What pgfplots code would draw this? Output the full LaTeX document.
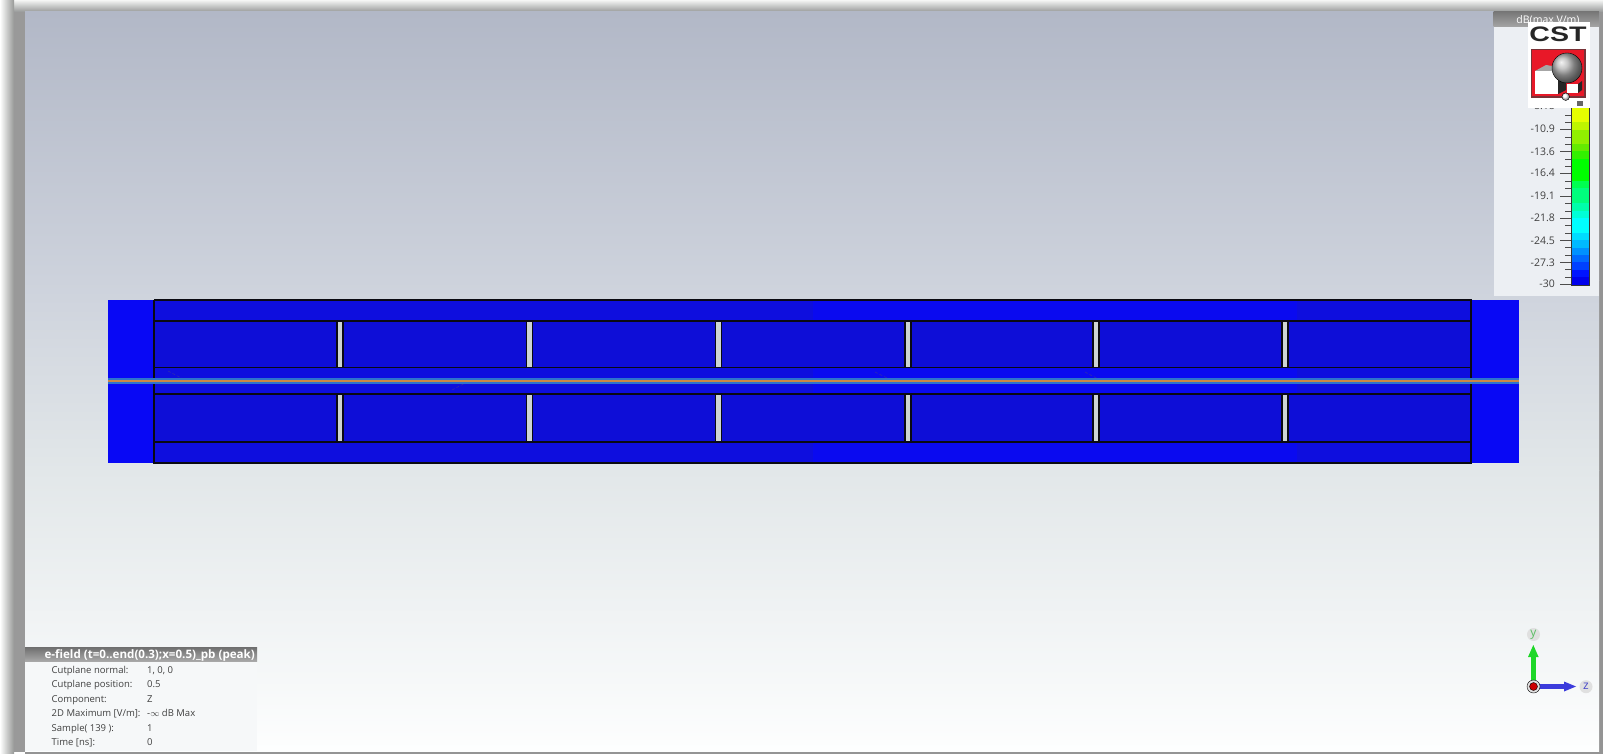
\documentclass[border=0pt]{standalone}
\usepackage{pgfplots}
\pgfplotsset{compat=1.18}
\usepackage{fontspec}
\setmainfont{Open Sans}
\newfontfamily\cstfont[FakeStretch=1.36]{Liberation Sans}
\newcommand\rect[5]{\addplot[fill=#1,draw=none,forget plot] coordinates {(#2,#3)(#4,#3)(#4,#5)(#2,#5)} -- cycle;}
\newcommand\band[2]{\addplot[fill={rgb,255:#1},draw=none,forget plot] coordinates {(1571,285)(1589,285)(1589,#2)(1571,#2)} -- cycle;}
\newcommand\grad[6]{\addplot[top color={rgb,255:#1},bottom color={rgb,255:#2},draw=none,forget plot] coordinates {(#3,#4)(#5,#4)(#5,#6)(#3,#6)} -- cycle;}
\newcommand\hgrad[6]{\addplot[left color={rgb,255:#1},right color={rgb,255:#2},draw=none,forget plot] coordinates {(#3,#4)(#5,#4)(#5,#6)(#3,#6)} -- cycle;}
\newcommand\slot[4]{\rect{blk}{#1}{321}{#4}{367.5}\rect{slotgrey}{#2}{322}{#3}{366.5}%
\rect{blk}{#1}{394}{#4}{441.5}\rect{slotgrey}{#2}{395}{#3}{440.5}}
\newcommand\tick[2]{\addplot[black!70,line width=.9pt,forget plot] coordinates {(#1,#2)(1571,#2)};}
\newcommand\lab[2]{\node[anchor=east,inner sep=0pt,text=black!75,font=\fontsize{10.5}{12}\selectfont] at (axis cs:1555,#2) {#1};}
\newcommand\info[3]{\node[anchor=base west,inner sep=0pt,text=black!75,font=\fontsize{9.5}{12}\selectfont] at (axis cs:51.5,#3) {#1};\node[anchor=base west,inner sep=0pt,text=black!75,font=\fontsize{9.5}{12}\selectfont] at (axis cs:147,#3) {#2};}
\newcommand\artefact[4]{\addplot[artc,line width=.6pt,densely dashed,forget plot] coordinates {(#1,#2)(#3,#4)};}
\definecolor{blk}{RGB}{10,10,18}
\definecolor{artc}{RGB}{45,45,175}
\definecolor{blockblue}{RGB}{8,8,245}
\definecolor{stripblue}{RGB}{10,10,240}
\definecolor{stripdark}{RGB}{14,14,222}
\definecolor{cellblue}{RGB}{14,14,215}
\definecolor{slotgrey}{RGB}{205,212,212}
\definecolor{panel}{RGB}{236,239,243}
\definecolor{lineblue}{RGB}{45,115,205}
\definecolor{lineorange}{RGB}{205,135,70}
\definecolor{logored}{RGB}{232,24,40}
\definecolor{logoedge}{RGB}{120,50,55}
\definecolor{axg}{RGB}{30,215,40}
\definecolor{axb}{RGB}{60,60,220}
\definecolor{boxfill}{RGB}{246,248,249}
\definecolor{tagy}{RGB}{90,190,100}
\definecolor{tagz}{RGB}{70,70,200}
\begin{document}
\begin{tikzpicture}
\begin{axis}[scale only axis,width=1603pt,height=754pt,xmin=0,xmax=1603,ymin=0,ymax=754,y dir=reverse,
  axis lines=none,clip=true]
% window shadow and backdrop
\rect{white}{0}{0}{1603}{754}
\grad{red,245;green,246;blue,245}{red,150;green,152;blue,152}{10}{0}{1603}{12}
\hgrad{red,255;green,255;blue,255}{red,150;green,152;blue,150}{0}{0}{14}{754}
\rect{black!40}{14}{12}{25}{752}
\rect{black!42}{25}{751}{1603}{754}
\rect{black!42}{1599}{12}{1603}{754}
% backdrop gradient
\grad{red,178;green,184;blue,199}{red,205;green,210;blue,220}{25}{12}{1599}{280}
\grad{red,205;green,210;blue,220}{red,226;green,231;blue,233}{25}{280}{1599}{470}
\grad{red,226;green,231;blue,233}{red,253;green,254;blue,254}{25}{470}{1599}{751}
% end blocks
\rect{blockblue}{107.5}{300}{154}{463}
\rect{blockblue}{1471}{300}{1518.5}{463}
% strips
\rect{stripdark}{154}{300}{1471}{463}
\rect{stripblue}{813}{300}{1297}{321}
\rect{stripblue}{813}{441.7}{1297}{463}
\rect{stripblue}{813}{367.5}{1297}{393.7}
% cells
\rect{cellblue}{154}{321}{1471}{367.5}
\rect{cellblue}{154}{393.7}{1471}{441.7}
% slots
\slot{336.2}{337.6}{342.4}{343.8}
\slot{525.7}{527.1}{531.9}{533.3}
\slot{714.7}{716.1}{720.9}{722.3}
\slot{904.2}{905.6}{910.4}{911.8}
\slot{1092.2}{1093.6}{1098.4}{1099.8}
\slot{1281.2}{1282.6}{1287.4}{1288.8}
% frame lines
\addplot[blk,line width=1.8pt,forget plot] coordinates {(154,300)(1471,300)(1471,463)(154,463)(154,300)};
\addplot[blk,line width=1.6pt,forget plot] coordinates {(154,321)(1471,321)};
\addplot[blk,line width=1.6pt,forget plot] coordinates {(154,367.5)(1471,367.5)};
\addplot[blk,line width=1.6pt,forget plot] coordinates {(154,393.7)(1471,393.7)};
\addplot[blk,line width=1.6pt,forget plot] coordinates {(154,441.7)(1471,441.7)};
% faint artefacts near the centre
\artefact{168}{371}{187}{381}
\artefact{452}{390}{469}{381}
\artefact{875}{372}{893}{381}
\artefact{1085}{372}{1100}{380}
% centre strip
\rect{lineblue}{107.5}{378.3}{1518.5}{383.7}
\rect{lineorange}{107.5}{380}{1518.5}{382}
% colour bar panel
\rect{panel}{1493.5}{27}{1599}{296}
\grad{red,120;green,120;blue,120}{red,165;green,165;blue,165}{1493.5}{12}{1599}{27}
\node[inner sep=0pt,text=white,font=\fontsize{10.5}{12}\selectfont,anchor=base] at (axis cs:1548,24) {dB(max V/m)};
% colour bar, top band first, each later band covering the rest below it
\band{red,230;green,255;blue,0}{108}
\band{red,190;green,245;blue,0}{122}
\band{red,145;green,240;blue,0}{130}
\band{red,100;green,235;blue,0}{144}
\band{red,50;green,240;blue,0}{151}
\band{red,0;green,255;blue,0}{159}
\band{red,0;green,255;blue,80}{181}
\band{red,0;green,255;blue,125}{188}
\band{red,0;green,255;blue,170}{203}
\band{red,0;green,255;blue,215}{211}
\band{red,0;green,255;blue,255}{218}
\band{red,0;green,220;blue,255}{233}
\band{red,0;green,185;blue,255}{240}
\band{red,0;green,145;blue,255}{248}
\band{red,0;green,105;blue,255}{255}
\band{red,0;green,65;blue,255}{262}
\band{red,0;green,20;blue,255}{270}
\band{red,0;green,0;blue,235}{277}
\addplot[black!80,line width=.7pt,forget plot] coordinates {(1571,108)(1571,285)(1589,285)(1589,108)};
% ticks
\tick{1560}{284}\tick{1560}{262}\tick{1560}{240}\tick{1560}{218}\tick{1560}{196}\tick{1560}{173}\tick{1560}{151}\tick{1560}{129}\tick{1560}{107}
\tick{1565}{277}\tick{1565}{269}\tick{1565}{255}\tick{1565}{247}\tick{1565}{233}\tick{1565}{225}\tick{1565}{211}\tick{1565}{203}\tick{1565}{188}\tick{1565}{181}\tick{1565}{166}\tick{1565}{159}\tick{1565}{144}\tick{1565}{137}\tick{1565}{122}\tick{1565}{115}
\lab{-30}{284}\lab{-27.3}{262.5}\lab{-24.5}{240.5}\lab{-21.8}{218}\lab{-19.1}{195.5}\lab{-16.4}{173}\lab{-13.6}{151.5}\lab{-10.9}{129}\lab{-8.18}{106}
% CST logo
\rect{white}{1527.5}{22}{1589.5}{108}
\node[inner sep=0pt,font=\fontsize{21}{24}\selectfont\cstfont\bfseries,text=black!85,anchor=base] at (axis cs:1558,41.5) {CST};
\rect{logoedge}{1531}{49}{1585.7}{97.7}
\rect{logored}{1532.3}{50.3}{1584.4}{96.4}
\addplot[only marks,mark=ball,mark size=15pt,mark options={ball color=black!30},forget plot] coordinates {(1567,68)};
\addplot[draw=none,fill=black!35,forget plot] coordinates {(1535,71)(1546,65)(1558,67)(1558,71)} -- cycle;
\rect{white}{1535}{71}{1558}{94}
\addplot[draw=none,fill=black!85,forget plot] coordinates {(1558,71)(1566,67)(1566,90)(1558,94)} -- cycle;
\rect{white}{1567}{84}{1578}{93}
\addplot[draw=none,fill=black!85,forget plot] coordinates {(1578,84)(1582,81)(1582,90)(1578,93)} -- cycle;
\addplot[only marks,mark=ball,mark size=3.8pt,mark options={ball color=white},forget plot] coordinates {(1565.7,96.7)};
\rect{black!60}{1577}{101}{1583}{106}
% info box
\rect{boxfill}{25}{661.5}{257}{751}
\grad{red,110;green,110;blue,110}{red,170;green,170;blue,170}{25}{647}{257}{661.5}
\node[inner sep=0pt,text=white,font=\fontsize{11.6}{13}\selectfont\bfseries,anchor=base west] at (axis cs:44.3,658) {e-field (t=0..end(0.3);x=0.5)\_pb (peak)};
\info{Cutplane normal:}{1, 0, 0}{673}
\info{Cutplane position:}{0.5}{687.5}
\info{Component:}{Z}{702}
\info{2D Maximum [V/m]:}{-$\infty$ dB Max}{716.5}
\info{Sample( 139 ):}{1}{731}
\info{Time [ns]:}{0}{745}
% axes triad
\addplot[only marks,mark=*,mark size=6.5pt,mark options={draw=none,fill=black!12},forget plot] coordinates {(1533.5,686.5)};
\addplot[axg,line width=5.5pt,forget plot] coordinates {(1533.3,686)(1533.3,656)};
\addplot[fill=axg,draw=none,forget plot] coordinates {(1528,657)(1533.3,645)(1538.6,657)} -- cycle;
\addplot[axb,line width=4.5pt,forget plot] coordinates {(1533.5,686.5)(1566,686.5)};
\addplot[fill=axb,draw=none,forget plot] coordinates {(1564,681.5)(1576,686.5)(1564,691.5)} -- cycle;
\addplot[only marks,mark=*,mark size=4pt,mark options={draw=none,fill=red!80!black},forget plot] coordinates {(1533.5,686.5)};
\node[circle,inner sep=0pt,minimum size=13pt,fill=black!12,text=tagy,font=\fontsize{12}{13}\selectfont] at (axis cs:1533.5,634.5) {y};
\node[circle,inner sep=0pt,minimum size=13pt,fill=black!12,text=tagz,font=\fontsize{12}{13}\selectfont] at (axis cs:1586,686.7) {z};
\end{axis}
\end{tikzpicture}
\end{document}
